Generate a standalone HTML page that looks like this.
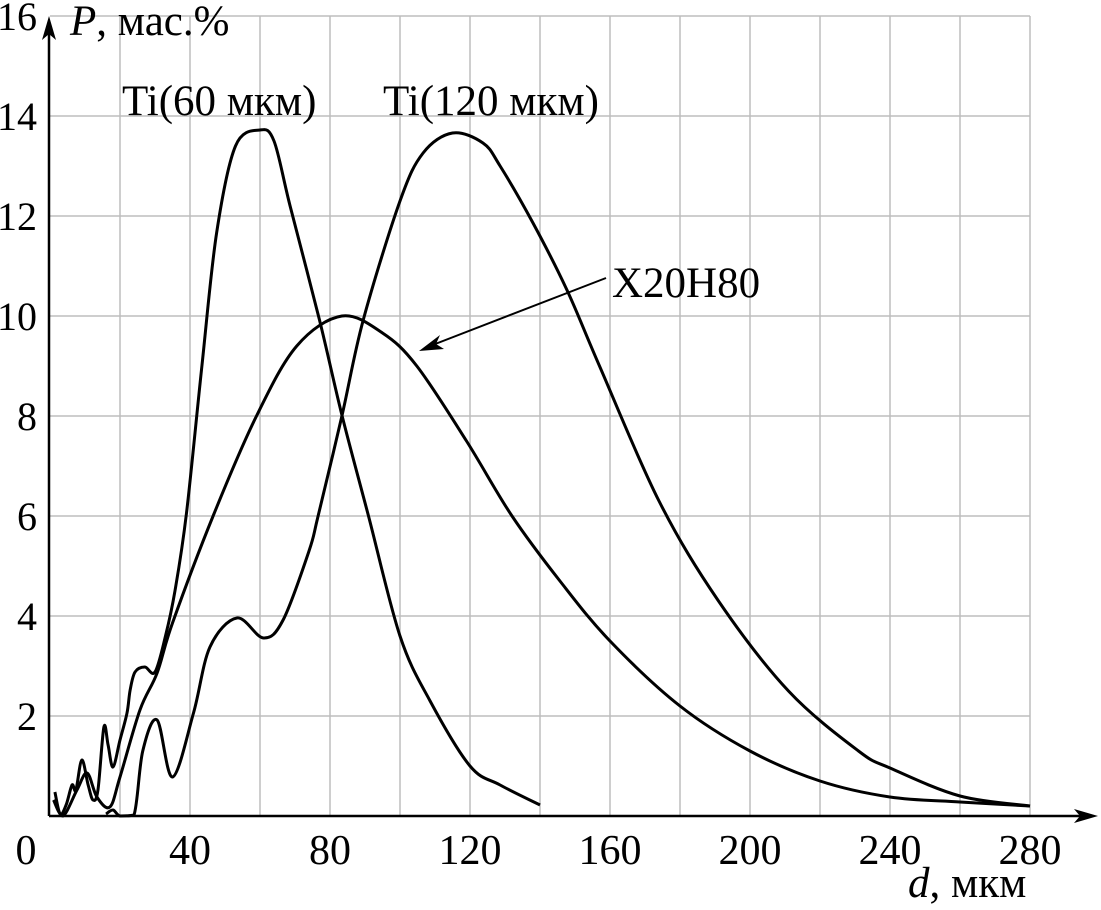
<!DOCTYPE html>
<html><head><meta charset="utf-8"><style>
html,body{margin:0;padding:0;background:#fff}
svg{display:block}
text{font-family:"Liberation Serif",serif;fill:#000}
</style></head><body>
<svg id="chart" width="1101" height="910" viewBox="0 0 1101 910" xmlns="http://www.w3.org/2000/svg">
<g id="grid"></g>
<g id="series"></g>
<g id="axes">
<line x1="49" y1="816" x2="1085" y2="816" stroke="#000" stroke-width="2.5"/>
<polygon points="1098,816 1074,809 1080,816 1074,823" fill="#000"/>
<line x1="49" y1="816" x2="49" y2="28" stroke="#000" stroke-width="2.5"/>
<polygon points="49,16 42,40 49,34 56,40" fill="#000"/>
</g>
<g id="ticks"></g>
<text x="70" y="35" font-size="43"><tspan font-style="italic">P</tspan>, мас.%</text>
<text x="908" y="897" font-size="43"><tspan font-style="italic">d</tspan>, мкм</text>
<text x="122" y="115" font-size="43">Ti(60 мкм)</text>
<text x="383" y="115" font-size="43">Ti(120 мкм)</text>
<text x="612" y="297" font-size="43">X20H80</text>
<line x1="606" y1="278" x2="430" y2="346" stroke="#000" stroke-width="2"/>
<polygon points="419,351 440,335 436,344 444,349" fill="#000"/>
</svg>
<script>
const xTicks=[0,40,80,120,160,200,240,280];
const yTicks=[2,4,6,8,10,12,14,16];
const ti60D=[1.4,2.9,4.6,6.3,7.4,9.1,10.9,12.3,13.7,15.4,16.6,18,20,22,22.9,24.3,27.1,30,33,35.7,39,43.4,47.6,53,60,64,68.6,77,83.4,91,100,108.6,120,128.6,140];
const ti60P=[0.48,0.04,0.22,0.62,0.52,1.12,0.62,0.32,0.52,1.78,1.42,0.98,1.52,2.06,2.52,2.88,2.98,2.88,3.6,4.5,6.06,9,11.66,13.4,13.72,13.5,12.2,9.92,8.02,6,3.6,2.3,1.0,0.62,0.22];
const ti120D=[16,18,20,24,26.5,30.6,35,41,45.7,53.4,61,66.6,74,76.6,83.4,89.5,100,106.6,115,123.7,128.6,138,147.7,157,174,191,211,231,240,260,280];
const ti120P=[0.04,0.12,0,0.02,1.3,1.92,0.78,2.06,3.38,3.96,3.56,3.92,5.3,6,8,9.92,12.3,13.26,13.66,13.46,13,11.86,10.52,9,6.3,4.3,2.5,1.3,0.96,0.4,0.2];
const x20D=[1,3.7,7.7,10.6,13.4,17.1,20,25.7,30.6,35,46.6,59,70.5,83.4,95,104.8,119,132,145.7,160,180,200,220,240,260,280];
const x20P=[0.32,0,0.52,0.86,0.38,0.18,0.78,2.12,2.86,3.86,6,8,9.4,10,9.66,9,7.5,6,4.7,3.5,2.2,1.3,0.7,0.38,0.28,0.2];
const NS="http://www.w3.org/2000/svg";
const X=d=>50+3.5*d, Y=p=>816-50*p;
const grid=document.getElementById('grid'), ticks=document.getElementById('ticks'), series=document.getElementById('series');
for(let d=20; d<=280; d+=20){
  const l=document.createElementNS(NS,'line');
  
  
  l.setAttribute('x1',X(d));l.setAttribute('x2',X(d));l.setAttribute('y1',Y(16));l.setAttribute('y2',Y(0));
  l.setAttribute('stroke','#bdbdbd');l.setAttribute('stroke-width','1.5');grid.appendChild(l);
}
for(let p=2; p<=16; p+=2){
  const l=document.createElementNS(NS,'line');
  
  
  l.setAttribute('x1',X(0));l.setAttribute('x2',X(280));l.setAttribute('y1',Y(p));l.setAttribute('y2',Y(p));
  l.setAttribute('stroke','#bdbdbd');l.setAttribute('stroke-width','1.5');grid.appendChild(l);
}
xTicks.forEach(v=>{
  const t=document.createElementNS(NS,'text');
  
  
  t.setAttribute('x',v===0?26:X(v));t.setAttribute('y',864);t.setAttribute('font-size','42');t.setAttribute('text-anchor','middle');
  t.textContent=v;ticks.appendChild(t);
});
yTicks.forEach(v=>{
  const t=document.createElementNS(NS,'text');
  
  
  t.setAttribute('x',37);t.setAttribute('y',Y(v)+14);t.setAttribute('font-size','40');t.setAttribute('text-anchor','end');
  t.textContent=v;ticks.appendChild(t);
});
function smooth(ds,ps){
  const pts=ds.map((d,i)=>[X(d),Y(ps[i])]);
  const cl=y=>Math.min(y,Y(0));
  let s='M'+pts[0][0]+','+pts[0][1];
  for(let i=0;i<pts.length-1;i++){
    const p0=pts[i-1]||pts[i],p1=pts[i],p2=pts[i+1],p3=pts[i+2]||p2;
    const c1=[p1[0]+(p2[0]-p0[0])/6,cl(p1[1]+(p2[1]-p0[1])/6)];
    const c2=[p2[0]-(p3[0]-p1[0])/6,cl(p2[1]-(p3[1]-p1[1])/6)];
    s+=' C'+c1.join(',')+' '+c2.join(',')+' '+p2.join(',');
  }
  return s;
}
function addSeries(name,ds,ps){
  const p=document.createElementNS(NS,'path');
  
  
  p.setAttribute('d',smooth(ds,ps));p.setAttribute('fill','none');p.setAttribute('stroke','#000');p.setAttribute('stroke-width','3');
  p.setAttribute('stroke-linejoin','round');series.appendChild(p);
}
addSeries('ti-60-curve',ti60D,ti60P);
addSeries('ti-120-curve',ti120D,ti120P);
addSeries('x20h80-curve',x20D,x20P);
</script>
</body></html>
